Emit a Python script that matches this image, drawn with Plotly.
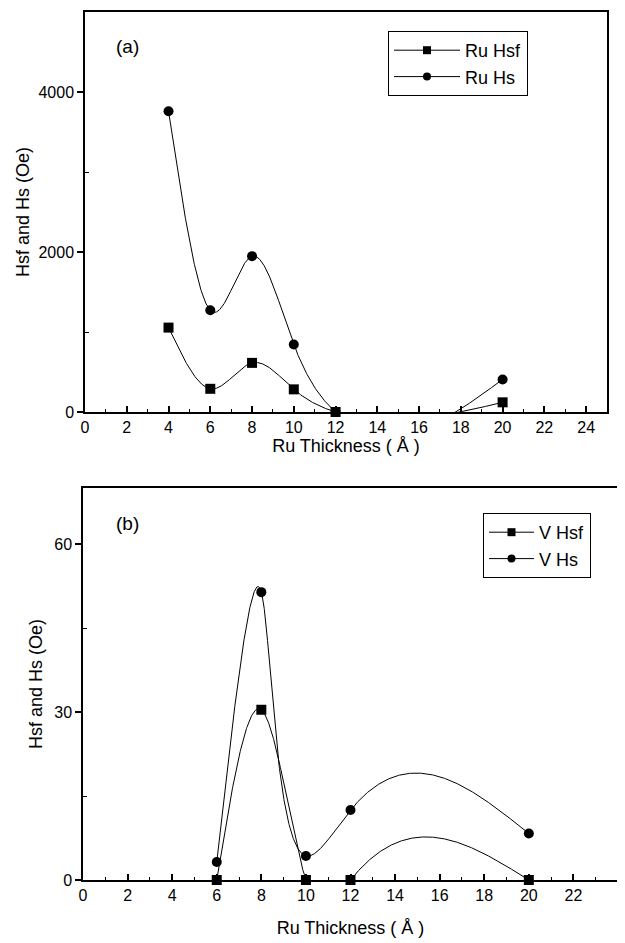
import numpy as np
import plotly.graph_objects as go

# ---- data ----
thickness_a = [4, 6, 8, 10, 12, 20]
ru_hsf = [1055, 290, 614, 283, 0, 121]
ru_hs = [3760, 1271, 1948, 843, 0, 407]

thickness_b = [6, 8, 10, 12, 20]
v_hsf = [0, 30.4, 0, 0, 0]
v_hs = [3.2, 51.4, 4.3, 12.5, 8.3]

x_ticks = list(range(0, 25, 2))
y_ticks_a = [0, 2000, 4000]
y_ticks_b = [0, 30, 60]

# page body has an 8px margin; size the figure so it sits inside the window
OFF = 8
W, H = 625 - OFF, 943 - OFF


def dx(px):
    return (px - OFF) / W


def dy(py):
    return 1 - (py - OFF) / H


def spline_coeffs(t, y):
    t = np.asarray(t, float)
    y = np.asarray(y, float)
    m = len(t)
    h = np.diff(t)
    A = np.zeros((m, m))
    r = np.zeros(m)
    A[0, 0] = A[-1, -1] = 1.0
    for i in range(1, m - 1):
        A[i, i - 1] = h[i - 1]
        A[i, i] = 2 * (h[i - 1] + h[i])
        A[i, i + 1] = h[i]
        r[i] = 3 * ((y[i + 1] - y[i]) / h[i] - (y[i] - y[i - 1]) / h[i - 1])
    c = np.linalg.solve(A, r)
    b = (y[1:] - y[:-1]) / h - h * (2 * c[:-1] + c[1:]) / 3
    d = (c[1:] - c[:-1]) / (3 * h)
    return t, y, b, c, d


def eval_spline(coef, ts):
    t, y, b, c, d = coef
    idx = np.clip(np.searchsorted(t, ts, side="right") - 1, 0, len(t) - 2)
    u = ts - t[idx]
    return y[idx] + b[idx] * u + c[idx] * u ** 2 + d[idx] * u ** 3


def smooth_curve(x, y, sx, sy, n=800):
    """Parametric natural cubic spline through the points (chord-length in
    screen space; sy=0 gives an ordinary spline y(x))."""
    x = np.asarray(x, float)
    y = np.asarray(y, float)
    d = np.hypot(np.diff(x) * sx, np.diff(y) * sy)
    t = np.concatenate([[0], np.cumsum(d)])
    ts = np.linspace(0, t[-1], n)
    return eval_spline(spline_coeffs(t, x), ts), eval_spline(spline_coeffs(t, y), ts)


FONT = "Liberation Sans, Arial, sans-serif"
fig = go.Figure()

SX_A, SY_A = 20.9, 400 / 5000
SX_B, SY_B = 22.3, 392 / 70

panels = [
    ("x", "y", thickness_a, [(ru_hsf, "square", "Ru Hsf", 0.0), (ru_hs, "circle", "Ru Hs", 0.0)], "legend", SX_A, SY_A),
    ("x2", "y2", thickness_b, [(v_hsf, "square", "V Hsf", 0.0), (v_hs, "circle", "V Hs", 0.45)], "legend2", SX_B, SY_B),
]
for xa, ya, xv, series, leg, sx, sy in panels:
    for yv, sym, name, k in series:
        cx, cy = smooth_curve(xv, yv, sx, sy * k)
        fig.add_trace(go.Scatter(x=cx, y=cy, mode="lines", line=dict(color="black", width=1),
                                 showlegend=False, xaxis=xa, yaxis=ya, hoverinfo="skip"))
        fig.add_trace(go.Scatter(x=xv, y=yv, mode="markers",
                                 marker=dict(symbol=sym, size=10, color="black"),
                                 showlegend=False, cliponaxis=False, xaxis=xa, yaxis=ya))
        fig.add_trace(go.Scatter(x=[None], y=[None], mode="lines+markers", name=name,
                                 line=dict(color="black", width=1),
                                 marker=dict(symbol=sym, size=8, color="black"),
                                 legend=leg, xaxis=xa, yaxis=ya))

axis_common = dict(showline=True, linecolor="black", linewidth=1.5, mirror=True,
                   showgrid=False, zeroline=False, tickcolor="black", automargin=False,
                   tickfont=dict(family=FONT, size=16, color="black"))

xaxis_common = dict(axis_common, ticks="inside", ticklen=6, tickwidth=1.5,
                    tickvals=x_ticks,
                    minor=dict(dtick=1, tick0=0, ticks="inside", ticklen=3,
                               tickcolor="black", tickwidth=1))
title_font = dict(family=FONT, size=18, color="black")

fig.update_layout(
    width=W, height=H,
    margin=dict(l=0, r=0, t=0, b=0),
    paper_bgcolor="white", plot_bgcolor="white",
    xaxis=dict(xaxis_common, domain=[dx(85), dx(607)], range=[0, 25], anchor="y",
               title=dict(text="Ru Thickness ( Å )", standoff=0, font=title_font)),
    yaxis=dict(axis_common, domain=[dy(412), dy(12)], range=[0, 5000], anchor="x",
               tickvals=y_ticks_a, ticks="outside", ticklen=6, tickwidth=1.5,
               minor=dict(tickvals=[1000, 3000], ticks="inside", ticklen=4,
                          tickcolor="black", tickwidth=1),
               title=dict(text="Hsf and Hs (Oe)", standoff=4, font=title_font)),
    xaxis2=dict(xaxis_common, domain=[dx(83), dx(618)], range=[0, 24], anchor="y2",
                title=dict(text="Ru Thickness ( Å )", standoff=18, font=title_font)),
    yaxis2=dict(axis_common, domain=[dy(880), dy(488)], range=[0, 70], anchor="x2",
                tickvals=y_ticks_b, ticks="outside", ticklen=6, tickwidth=1.5,
                minor=dict(tickvals=[15, 45], ticks="inside", ticklen=4,
                           tickcolor="black", tickwidth=1),
                title=dict(text="Hsf and Hs (Oe)", standoff=7, font=title_font)),
    legend=dict(x=dx(388), y=dy(31), xanchor="left", yanchor="top",
                bordercolor="black", borderwidth=1, bgcolor="white",
                font=dict(family=FONT, size=18, color="black"),
                tracegroupgap=0, itemwidth=66),
    legend2=dict(x=dx(483), y=dy(513), xanchor="left", yanchor="top",
                 bordercolor="black", borderwidth=1, bgcolor="white",
                 font=dict(family=FONT, size=18, color="black"),
                 tracegroupgap=0, itemwidth=45),
    annotations=[
        dict(text="(a)", x=dx(127), y=dy(46), xref="paper", yref="paper",
             xanchor="center", yanchor="middle",
             showarrow=False, font=dict(family=FONT, size=19, color="black")),
        dict(text="(b)", x=dx(127), y=dy(523), xref="paper", yref="paper",
             xanchor="center", yanchor="middle",
             showarrow=False, font=dict(family=FONT, size=19, color="black")),
    ],
)

fig.write_html("out.html")
